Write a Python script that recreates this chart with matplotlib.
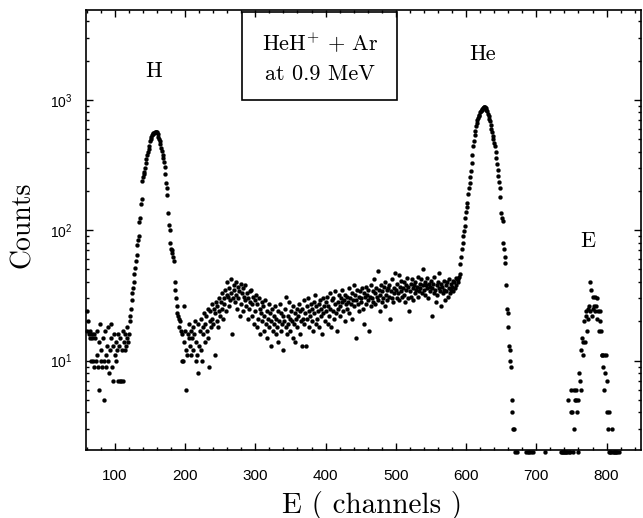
import numpy as np
import matplotlib
matplotlib.use("Agg")
import matplotlib.pyplot as plt
from matplotlib.ticker import MultipleLocator, LogLocator, NullFormatter
from matplotlib.patches import Rectangle

# ---------------- data (counts per channel, starting at channel 60) ----------------
first_channel = 60

seg_low = [17, 24, 20, 16, 17, 15, 10, 16, 15, 10,
           16, 9, 15, 10, 11, 17, 9, 6, 14, 19,
           10, 12, 9, 15, 5, 10, 17, 11, 9, 13,
           18, 10, 8, 12, 15, 19, 9, 13, 7, 16,
           11, 14, 10, 12, 16, 7, 13, 7, 15, 7,
           12, 7, 17, 14, 12, 16, 13, 18, 15, 14,
           16]

seg_H = [20, 22, 25, 29, 33, 36, 40, 46, 51, 58,
         65, 77, 84, 90, 115, 125, 160, 175, 240, 255,
         268, 280, 300, 330, 350, 380, 400, 420, 440, 480,
         500, 520, 535, 545, 555, 560, 565, 570, 568, 565,
         545, 520, 500, 480, 460, 430, 405, 380, 355, 335,
         305, 270, 230, 210, 185, 135, 110, 100, 80, 72,
         70, 67, 62, 58, 40, 35, 30, 26, 23, 22, 21, 18]

seg_mid = [20, 17, 16, 10, 10, 26, 14,
           17, 12, 6, 11, 16, 19, 15, 13, 17, 11,
           15, 18, 12, 16, 20, 14, 10, 11, 8, 19,
           13, 17, 21, 12, 10, 18, 16, 23, 14, 19,
           22, 17, 25, 15, 9, 20, 24, 18, 27, 21,
           19, 25, 11, 23, 28, 20, 26, 18, 30, 24,
           22, 28, 33, 25, 21, 30, 27, 35, 24, 32]

seg_band = [40, 31, 26, 36, 29, 42, 33, 16, 30, 38,
            35, 28, 40, 32, 25, 37, 30, 34, 22, 39,
            27, 33, 36, 24, 31, 29, 38, 26, 33, 21,
            30, 25, 34, 28, 35, 22, 27, 31, 19, 29,
            24, 32, 18, 27, 21, 30, 25, 16, 23, 28,
            20, 26, 17, 22, 29, 19, 24, 15, 21, 27,
            18, 23, 13, 20, 25, 17, 22, 19, 26, 16,
            21, 18, 24, 14, 20, 27, 17, 23, 19, 22,
            12, 20, 25, 18, 31, 16, 22, 19, 28, 21,
            17, 24, 20, 15, 26, 19, 23, 14, 21, 25,
            18, 22, 27, 16, 24, 20, 13, 25, 21, 29,
            19, 23, 13, 26, 21, 30, 18, 24, 22, 27,
            20, 25, 17, 28, 23, 32, 19, 26, 21, 24,
            27, 18, 29, 22, 25, 16, 30, 23, 26, 20,
            28, 24, 31, 19, 26, 22, 33, 25, 18, 29,
            24, 30, 21, 27, 34, 23, 17, 28, 25, 32,
            26, 22, 30, 28, 35, 24, 29, 20, 32, 27,
            25, 31, 28, 36, 23, 30, 27, 33, 21, 29,
            38, 26, 32, 15, 29, 35, 27, 31, 24, 34,
            30, 28, 36, 25, 33, 19, 31, 37, 27, 32,
            29, 35, 17, 31, 26, 38, 30, 34, 28, 42,
            33, 27, 36, 31, 49, 29, 35, 24, 32, 38,
            28, 34, 30, 37, 26, 40, 32, 35, 29, 36,
            31, 38, 21, 34, 30, 42, 28, 36, 33, 47,
            35, 30, 39, 33, 45, 29, 37, 34, 41, 31,
            36, 32, 40, 28, 38, 35, 43, 30, 37, 24,
            34, 39, 31, 42, 36, 29, 38, 33, 40, 35,
            37, 31, 44, 34, 39, 36, 42, 33, 38, 50,
            35, 40, 32, 38, 36, 43, 30, 39, 34, 37,
            41, 22, 36, 39, 33, 44, 35, 28, 38, 32,
            40, 36, 47, 34, 39, 26, 37, 33, 41, 35,
            29, 38, 34, 40, 31, 36, 42, 33, 39, 35,
            37, 41, 34, 40, 36, 43, 38, 42]

seg_He = [40, 42, 44, 46, 55, 62, 72, 80, 90, 98,
          108, 125, 138, 150, 162, 190, 210, 230, 255, 285,
          330, 380, 440, 480, 540, 580, 630, 665, 700, 730,
          750, 770, 800, 820, 840, 855, 865, 875, 880, 875,
          860, 840, 815, 780, 750, 715, 685, 640, 600, 570,
          530, 505, 470, 440, 400, 360, 320, 290, 260, 235,
          210, 180, 135, 125, 118, 80, 72, 62, 56, 38,
          25, 23, 18, 13, 12, 10, 9, 5, 4, 3, 3]

seg_gap = [2, 0, 0, 2, 0, 0, 0, 0, 0, 0,
           0, 0, 0, 0, 0, 0, 0, 2, 0, 2,
           2, 0, 0, 2, 0, 0, 2, 0, 0, 0,
           0, 0, 0, 0, 0, 0, 0, 0, 0, 0,
           0, 0, 0, 2, 0, 0, 0, 0, 0, 0,
           0, 0, 0, 0, 0, 0, 0, 0, 0, 0,
           0, 0, 0, 0, 0, 0]

seg_E = [2, 2, 0, 2, 2, 0, 2, 2, 0, 2,
         5, 2, 0, 2, 4, 6, 4, 2, 3, 6,
         5, 6, 5, 4, 2, 5, 8, 7, 12, 6,
         15, 11, 14, 20, 14, 24, 22, 17, 25, 21,
         26, 24, 40, 35, 22, 25, 31, 26, 24, 31,
         26, 30, 21, 24, 17, 20, 24, 17, 11, 11,
         9, 11, 6, 8, 11, 4, 7, 3, 4, 2,
         2, 2, 0, 3, 2, 2, 0, 2, 2, 0,
         2, 0, 2]

seg_tail = [0] * 28

counts = np.array(seg_low + seg_H + seg_mid + seg_band + seg_He + seg_gap + seg_E + seg_tail, dtype=float)
channels = np.arange(first_channel, first_channel + len(counts))

x_ticks = [100, 200, 300, 400, 500, 600, 700, 800]

peak_labels = ["H", "He", "E"]
box_lines = [r"HeH$^{+}$ + Ar", "at 0.9 MeV"]

# ---------------- figure ----------------
plt.rcParams['font.family'] = ['Liberation Sans', 'DejaVu Sans']
plt.rcParams['mathtext.fontset'] = 'cm'

fig = plt.figure(figsize=(6.43, 5.18), dpi=100)
W, H = 643, 518
left, right, top, bottom = 86, 641, 10, 449.5
ax = fig.add_axes([left / W, 1 - bottom / H, (right - left) / W, (bottom - top) / H])

mask = counts > 0
ax.plot(channels[mask], counts[mask], 'o', ms=2.9, color='black', mec='black', mew=0.2,
        clip_on=False, zorder=3)

ax.set_yscale('log')
ax.set_xlim(59, 849)
ax.set_ylim(2.08, 4890)

ax.xaxis.set_major_locator(MultipleLocator(100))
ax.xaxis.set_minor_locator(MultipleLocator(20))
ax.set_xticks(x_ticks)
ax.yaxis.set_major_locator(LogLocator(base=10))
ax.yaxis.set_minor_locator(LogLocator(base=10, subs=np.arange(2, 10)))
ax.yaxis.set_minor_formatter(NullFormatter())

ax.tick_params(which='both', direction='in', top=True, right=True, width=1.0, colors='black')
ax.tick_params(which='major', length=5)
ax.tick_params(which='minor', length=2.5)
ax.tick_params(axis='x', which='major', labelsize=11, pad=14)
ax.tick_params(axis='y', which='major', labelsize=10, pad=10)

for s in ax.spines.values():
    s.set_linewidth(1.2)

serif = 'cmr10'
fig.text(372 / W, 1 - 505 / H, "E ( channels )", family=serif, fontsize=21,
         ha='center', va='center')
fig.text(23 / W, 1 - 225 / H, "Counts", family=serif, fontsize=20, rotation=90,
         ha='center', va='center')

# peak labels
ax.text(155.8, 1650, peak_labels[0], family=serif, fontsize=16, ha='center', va='center')
ax.text(624, 2230, peak_labels[1], family=serif, fontsize=16, ha='center', va='center')
ax.text(773.5, 82, peak_labels[2], family=serif, fontsize=16, ha='center', va='center')

# box
bx0 = (242 - left) / (right - left)
bx1 = (397 - left) / (right - left)
by0 = 1 - (100 - top) / (bottom - top)
by1 = 1 - (12 - top) / (bottom - top)
ax.add_patch(Rectangle((bx0, by0), bx1 - bx0, by1 - by0, transform=ax.transAxes,
                       fill=False, lw=1.2, ec='black', zorder=4))
cx = (320 - left) / (right - left)
ax.text(cx, 1 - (43 - top) / (bottom - top), box_lines[0], transform=ax.transAxes,
        family=serif, fontsize=16, ha='center', va='center')
ax.text(cx, 1 - (74 - top) / (bottom - top), box_lines[1], transform=ax.transAxes,
        family=serif, fontsize=16, ha='center', va='center')

fig.savefig("out.png", dpi=100)
